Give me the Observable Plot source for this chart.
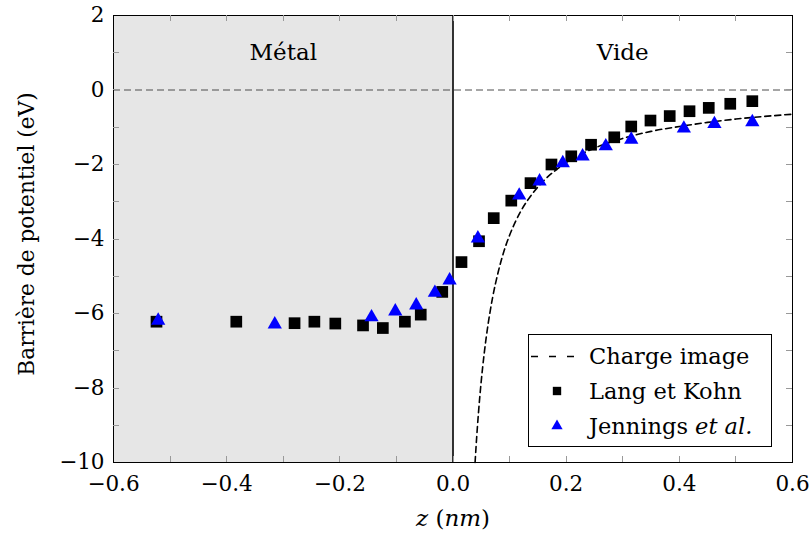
<!DOCTYPE html>
<html><head><meta charset="utf-8">
<script src="https://cdn.jsdelivr.net/npm/d3@7"></script>
<script src="https://cdn.jsdelivr.net/npm/@observablehq/plot@0.6"></script>
<style>body{margin:0;background:#fff} svg{display:block}</style>
</head><body><div id="chart"></div>
<script>
// Lang et Kohn (squares)
const langZ = [-0.524,-0.383,-0.280,-0.245,-0.208,-0.159,-0.124,-0.085,-0.057,-0.019,0.015,0.046,0.072,0.103,0.137,0.174,0.209,0.244,0.285,0.315,0.349,0.383,0.418,0.452,0.490,0.529];
const langV = [-6.22,-6.22,-6.26,-6.22,-6.27,-6.32,-6.39,-6.22,-6.03,-5.42,-4.62,-4.06,-3.44,-2.97,-2.50,-2.00,-1.78,-1.47,-1.27,-0.98,-0.82,-0.70,-0.57,-0.48,-0.37,-0.30];
// Jennings et al. (triangles)
const jennZ = [-0.521,-0.315,-0.144,-0.102,-0.065,-0.032,-0.006,0.044,0.117,0.153,0.194,0.229,0.270,0.315,0.408,0.462,0.529];
const jennV = [-6.19,-6.29,-6.10,-5.94,-5.78,-5.44,-5.11,-3.98,-2.83,-2.45,-1.96,-1.78,-1.51,-1.33,-1.03,-0.91,-0.86];
// Charge image curve
const imageZ = [0.039,0.042,0.045,0.05,0.055,0.06,0.07,0.08,0.09,0.10,0.12,0.14,0.16,0.18,0.20,0.25,0.30,0.35,0.40,0.45,0.50,0.55,0.60];
const imageV = [-10,-9.29,-8.67,-7.8,-7.09,-6.5,-5.57,-4.88,-4.33,-3.9,-3.25,-2.79,-2.44,-2.17,-1.95,-1.56,-1.30,-1.11,-0.98,-0.87,-0.78,-0.71,-0.65];
// Ticks
const xTickValues = [-0.6,-0.4,-0.2,0,0.2,0.4,0.6];
const xMinorTicks = [-0.5,-0.3,-0.1,0.1,0.3,0.5];
const yTickValues = [2,0,-2,-4,-6,-8,-10];
const yMinorTicks = [1,-1,-3,-5,-7,-9];
// Regions
const regionNames = ["Métal","Vide"];
const regionCenterZ = [-0.3, 0.3];
const regionLabelV = [1, 1];
const metalZ = [-0.6, 0];
const surfaceZ = [0];
const zeroLevel = [0];
const legendLabels = ["Charge image", "Lang et Kohn", "Jennings "];

const lang = langZ.map((z,i)=>({z, v: langV[i]}));
const jenn = jennZ.map((z,i)=>({z, v: jennV[i]}));
const image = imageZ.map((z,i)=>({z, v: imageV[i]}));
const regions = regionNames.map((n,i)=>({n, z: regionCenterZ[i], v: regionLabelV[i]}));

const FONT = "DejaVu Serif";
const tickStroke = "#999";

const chart = Plot.plot({
  width: 812, height: 533,
  marginLeft: 113, marginRight: 20, marginTop: 15, marginBottom: 71,
  style: {fontFamily: FONT, fontSize: "21px", color: "black", background: "white"},
  x: {domain: [-0.6, 0.6]},
  y: {domain: [-10, 2]},
  marks: [
    Plot.rect([{z1: metalZ[0], z2: metalZ[1]}], {x1: "z1", x2: "z2", y1: -10, y2: 2, fill: "#e6e6e6"}),
    Plot.ruleY(zeroLevel, {stroke: "#4d4d4d", strokeDasharray: "7,4", strokeWidth: 1}),
    Plot.ruleX(surfaceZ, {stroke: "black", strokeWidth: 1.6}),
    Plot.axisX(xTickValues, {anchor: "bottom", tickSize: 0, tickPadding: 13, label: null, fontSize: 21.5}),
    Plot.axisY(yTickValues, {anchor: "left", tickSize: 0, tickPadding: 9, label: null, fontSize: 21.5}),
    Plot.line(image, {x: "z", y: "v", curve: "monotone-x", stroke: "black", strokeWidth: 1.6, strokeDasharray: "6,4"}),
    Plot.dot(lang, {x: "z", y: "v", symbol: "square", r: 6.6, fill: "black"}),
    Plot.dot(jenn, {x: "z", y: "v", symbol: "triangle", r: 5.3, fill: "#0000ff"}),
    Plot.text(regions, {x: "z", y: "v", text: "n", fontSize: 23, fill: "black"}),
    Plot.frame({stroke: "black", strokeWidth: 1})
  ]
});
document.getElementById("chart").appendChild(chart);

const svg = d3.select(chart);
const sx = chart.scale("x"), sy = chart.scale("y");
const [x0, x1] = [sx.apply(-0.6), sx.apply(0.6)];
const [yb, yt] = [sy.apply(-10), sy.apply(2)];
const L = 6;
// inward ticks on all four sides
const tg = svg.append("g").attr("stroke", tickStroke).attr("stroke-width", 1);
for (const v of xTickValues.concat(xMinorTicks)) {
  if (v <= -0.6 || v >= 0.6) continue;
  const px = Math.round(sx.apply(v)) + 0.5;
  tg.append("line").attr("x1", px).attr("x2", px).attr("y1", yb).attr("y2", yb - L);
  tg.append("line").attr("x1", px).attr("x2", px).attr("y1", yt).attr("y2", yt + L);
}
for (const v of yTickValues.concat(yMinorTicks)) {
  if (v <= -10 || v >= 2) continue;
  const py = Math.round(sy.apply(v)) + 0.5;
  tg.append("line").attr("x1", x0).attr("x2", x0 + L).attr("y1", py).attr("y2", py);
  tg.append("line").attr("x1", x1).attr("x2", x1 - L).attr("y1", py).attr("y2", py);
}
// x-axis title
const xt = svg.append("text").attr("x", 453).attr("y", 526).attr("text-anchor", "middle")
  .attr("font-family", FONT).attr("font-size", 23).attr("fill", "black");
xt.append("tspan").attr("font-style", "italic").text("z");
xt.append("tspan").text(" (");
xt.append("tspan").attr("font-style", "italic").text("nm");
xt.append("tspan").text(")");
// y-axis title
svg.append("text").attr("transform", "translate(34,234) rotate(-90)").attr("text-anchor", "middle")
  .attr("font-family", FONT).attr("font-size", 21.7).attr("fill", "black").text("Barrière de potentiel (eV)");
// legend
const lg = svg.append("g").attr("font-family", FONT).attr("font-size", 22.5).attr("fill", "black").attr("text-anchor", "start");
lg.append("rect").attr("x", 528.5).attr("y", 334.5).attr("width", 243).attr("height", 112)
  .attr("fill", "white").attr("stroke", "black").attr("stroke-width", 1);
lg.append("line").attr("x1", 531).attr("x2", 575).attr("y1", 356.5).attr("y2", 356.5)
  .attr("stroke", "black").attr("stroke-width", 1.6).attr("stroke-dasharray", "7,11");
lg.append("path").attr("d", d3.symbol(d3.symbolSquare, 70)()).attr("transform", "translate(557,391)").attr("fill", "black");
lg.append("path").attr("d", d3.symbol(d3.symbolTriangle, 55)()).attr("transform", "translate(557,426)").attr("fill", "#0000ff");
lg.append("text").attr("x", 589).attr("y", 364).text(legendLabels[0]);
lg.append("text").attr("x", 589).attr("y", 399).text(legendLabels[1]);
const jt = lg.append("text").attr("x", 589).attr("y", 434);
jt.append("tspan").text(legendLabels[2]);
jt.append("tspan").attr("font-style", "italic").text("et al.");
</script></body></html>
